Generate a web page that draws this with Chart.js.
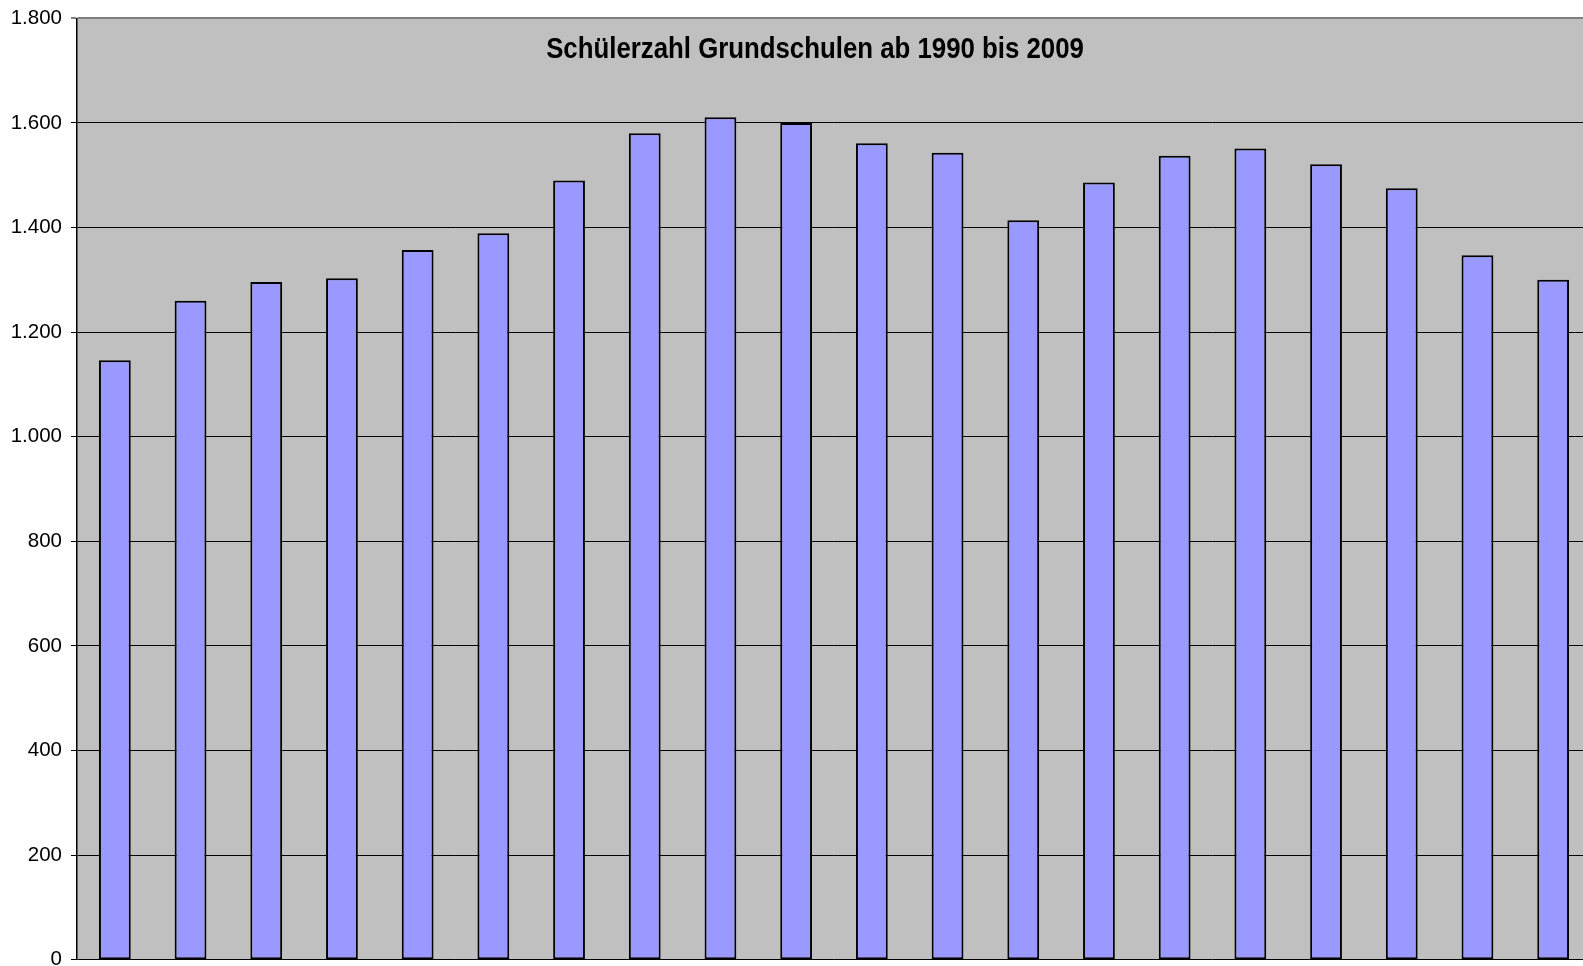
<!DOCTYPE html>
<html>
<head>
<meta charset="utf-8">
<script src="https://cdn.jsdelivr.net/npm/chart.js@4"></script>
<style>
  html, body { margin: 0; padding: 0; background: #ffffff; overflow: hidden; width: 1583px; height: 966px; }
  canvas { display: block; margin-top: -3px; }
</style>
</head>
<body>
<canvas id="c" width="1600" height="984"></canvas>
<script>
const years = ['1990','1991','1992','1993','1994','1995','1996','1997','1998','1999',
               '2000','2001','2002','2003','2004','2005','2006','2007','2008','2009'];
const pupils = [1146, 1260, 1296, 1303, 1357, 1389, 1490, 1580, 1611, 1600,
                1561, 1543, 1414, 1486, 1537, 1551, 1521, 1475, 1347, 1300];
const yTicks = [0, 200, 400, 600, 800, 1000, 1200, 1400, 1600, 1800];
const titleText = 'Schülerzahl Grundschulen ab 1990 bis 2009';

function fmtDE(v) {
  return String(v).replace(/\B(?=(\d{3})+(?!\d))/g, '.');
}

const plotBg = {
  id: 'plotBg',
  beforeDraw(chart) {
    const a = chart.chartArea, ctx = chart.ctx;
    ctx.save();
    ctx.fillStyle = '#C0C0C0';
    ctx.fillRect(a.left, a.top, a.right - a.left, a.bottom - a.top);
    ctx.restore();
  }
};
const innerTitle = {
  id: 'innerTitle',
  afterDraw(chart) {
    const a = chart.chartArea, ctx = chart.ctx;
    ctx.save();
    ctx.fillStyle = '#000';
    ctx.font = 'bold 30px "Liberation Sans", Arial, sans-serif';
    ctx.textAlign = 'center';
    ctx.textBaseline = 'alphabetic';
    ctx.translate(815, a.top + 40);
    ctx.scale(0.86, 1);
    ctx.fillText(titleText, 0, 0);
    ctx.restore();
  }
};

new Chart(document.getElementById('c'), {
  type: 'bar',
  data: {
    labels: years,
    datasets: [{
      data: pupils,
      backgroundColor: '#9999FF',
      borderColor: '#000000',
      borderWidth: 2,
      borderSkipped: false,
      categoryPercentage: 1.0,
      barPercentage: 0.42
    }]
  },
  options: {
    responsive: false,
    animation: false,
    layout: { padding: { left: 0, right: 9, top: 17, bottom: 7 } },
    plugins: { legend: { display: false }, title: { display: false }, tooltip: { enabled: false } },
    scales: {
      x: { display: false, offset: true },
      y: {
        min: 0, max: 1800,
        afterFit(scale) { scale.width = 77; },
        afterBuildTicks(scale) { scale.ticks = yTicks.map(v => ({ value: v })); },
        border: { display: true, color: '#000', width: 1.5 },
        grid: {
          drawOnChartArea: true,
          tickLength: 6,
          color: ctx => (ctx.tick && ctx.tick.value === 1800) ? '#808080' : '#000000',
          lineWidth: ctx => (ctx.tick && ctx.tick.value === 1800) ? 2 : 1
        },
        ticks: {
          padding: 9,
          color: '#000',
          font: { family: '"Liberation Sans", Arial, sans-serif', size: 20.5 },
          callback: v => fmtDE(v)
        }
      }
    }
  },
  plugins: [plotBg, innerTitle]
});
</script>
</body>
</html>
